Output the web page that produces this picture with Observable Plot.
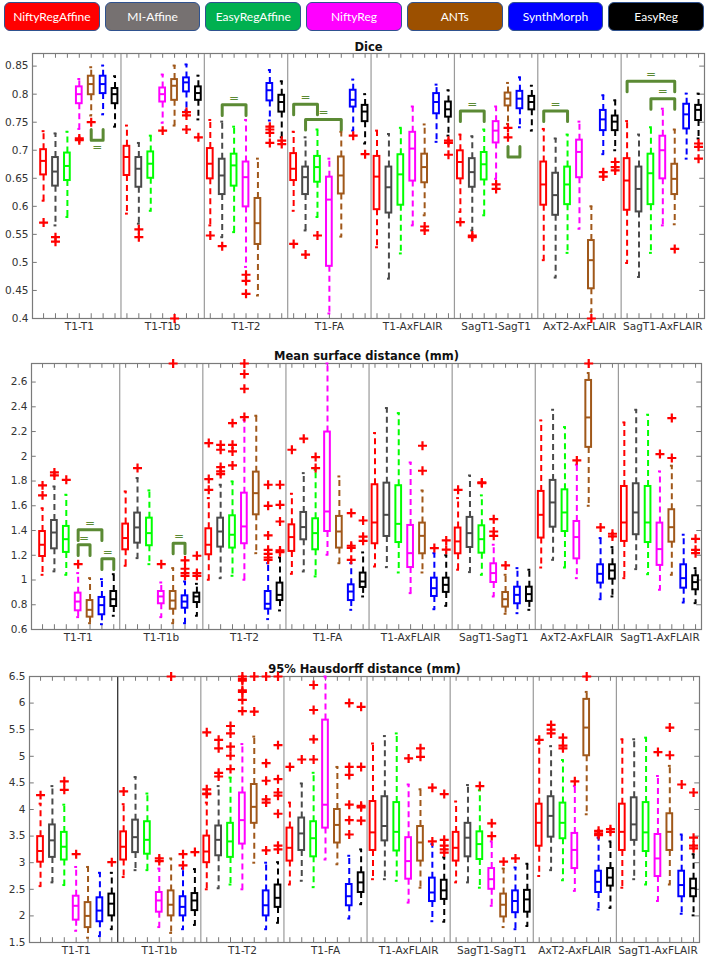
<!DOCTYPE html>
<html><head><meta charset="utf-8">
<script src="https://cdn.jsdelivr.net/npm/d3@7"></script>
<script src="https://cdn.jsdelivr.net/npm/@observablehq/plot@0.6"></script>
<style>
body{margin:0;background:#fff;width:709px;}
#legend{display:flex;gap:5px;padding:2px 5px 0 4px;height:36px;box-sizing:border-box;}
.lg{flex:1;height:29px;border:1.5px solid #2f528f;border-radius:6px;color:#fff;display:flex;align-items:center;justify-content:center;font:12px Lato,"Open Sans",sans-serif;box-sizing:border-box}
svg{display:block}
</style></head><body>
<div id="legend"></div>
<div id="charts"></div>
<script>
const methods = ["NiftyRegAffine","MI-Affine","EasyRegAffine","NiftyReg","ANTs","SynthMorph","EasyReg"];
const pairs = ["T1-T1","T1-T1b","T1-T2","T1-FA","T1-AxFLAIR","SagT1-SagT1","AxT2-AxFLAIR","SagT1-AxFLAIR"];
const legendColors = ["#ff0000","#767171","#00b050","#ff00ff","#9c5000","#0000ff","#000000"];
const boxColors = ["#ff0000","#4a4a4a","#00ff00","#ff00ff","#a0581a","#0000ff","#000000"];

// [lower whisker, q1, median, q3, upper whisker] per pair, per method
const diceStats = [
 [[0.61,0.656,0.681,0.701,0.734],[0.566,0.636,0.662,0.687,0.73],[0.581,0.646,0.672,0.695,0.733],[0.738,0.783,0.8,0.813,0.827],[0.762,0.799,0.818,0.832,0.848],[0.764,0.801,0.818,0.832,0.851],[0.742,0.783,0.8,0.81,0.832]],
 [[0.587,0.655,0.688,0.707,0.744],[0.569,0.634,0.667,0.687,0.713],[0.592,0.65,0.676,0.697,0.726],[0.749,0.786,0.8,0.811,0.835],[0.744,0.789,0.815,0.826,0.851],[0.771,0.804,0.821,0.829,0.853],[0.755,0.789,0.802,0.813,0.833]],
 [[0.566,0.649,0.676,0.703,0.754],[0.545,0.621,0.655,0.684,0.751],[0.554,0.636,0.673,0.693,0.742],[0.492,0.599,0.652,0.679,0.754],[0.441,0.532,0.57,0.614,0.685],[0.753,0.788,0.807,0.819,0.843],[0.723,0.768,0.786,0.798,0.823]],
 [[0.592,0.646,0.667,0.694,0.733],[0.557,0.621,0.652,0.67,0.723],[0.581,0.643,0.67,0.689,0.737],[0.409,0.493,0.612,0.652,0.685],[0.546,0.622,0.655,0.688,0.733],[0.735,0.777,0.79,0.807,0.826],[0.712,0.751,0.769,0.78,0.8]],
 [[0.527,0.594,0.653,0.689,0.735],[0.471,0.588,0.634,0.67,0.729],[0.516,0.602,0.657,0.692,0.74],[0.566,0.645,0.703,0.732,0.778],[0.584,0.642,0.67,0.693,0.746],[0.715,0.765,0.786,0.801,0.817],[0.726,0.759,0.773,0.786,0.807]],
 [[0.59,0.649,0.679,0.699,0.728],[0.557,0.634,0.661,0.685,0.725],[0.584,0.647,0.675,0.696,0.737],[0.649,0.713,0.735,0.751,0.778],[0.747,0.779,0.792,0.802,0.82],[0.741,0.774,0.792,0.805,0.83],[0.735,0.772,0.786,0.796,0.815]],
 [[0.504,0.602,0.639,0.679,0.738],[0.473,0.584,0.62,0.659,0.721],[0.517,0.603,0.639,0.67,0.728],[0.56,0.651,0.697,0.718,0.751],[0.412,0.453,0.504,0.539,0.6],[0.693,0.735,0.755,0.771,0.798],[0.7,0.735,0.751,0.761,0.789]],
 [[0.499,0.593,0.646,0.685,0.752],[0.474,0.59,0.631,0.67,0.728],[0.517,0.603,0.659,0.693,0.741],[0.566,0.649,0.7,0.725,0.774],[0.568,0.621,0.649,0.675,0.737],[0.685,0.738,0.764,0.782,0.801],[0.721,0.753,0.772,0.78,0.801]]
];
const diceOutliers = [
 [[0.571],[0.545,0.537],[],[0.721,0.718],[0.75],[],[]],
 [[],[0.559,0.545],[],[0.735],[0.40],[0.768,0.762,0.737],[0.723]],
 [[0.548],[0.529],[],[0.478,0.467,0.444],[],[0.742,0.737,0.731,0.713],[0.717,0.711]],
 [[0.533],[0.514],[0.548],[],[],[0.726],[0.693]],
 [[],[],[],[],[0.564,0.557],[],[0.717,0.713,0.692]],
 [[0.572],[0.548,0.545],[],[0.639,0.631],[0.74,0.723],[],[]],
 [[],[],[],[],[0.4],[0.661,0.653],[0.679,0.67,0.664]],
 [[],[],[],[],[0.524],[],[0.712,0.706,0.685]]
];
const msdStats = [
 [[1.042,1.19,1.285,1.392,1.58],[1.07,1.252,1.384,1.481,1.756],[1.042,1.223,1.33,1.433,1.689],[0.7,0.751,0.826,0.894,1.056],[0.651,0.7,0.759,0.834,1.015],[0.643,0.719,0.797,0.859,1.007],[0.711,0.786,0.845,0.907,1.047]],
 [[1.115,1.244,1.339,1.452,1.716],[1.177,1.298,1.425,1.541,1.824],[1.128,1.277,1.379,1.5,1.724],[0.7,0.808,0.867,0.907,0.98],[0.651,0.764,0.834,0.907,1.096],[0.651,0.772,0.826,0.872,0.988],[0.711,0.818,0.867,0.894,0.969]],
 [[1.002,1.204,1.285,1.414,1.662],[1.015,1.266,1.392,1.5,1.77],[1.034,1.258,1.366,1.519,1.797],[1.002,1.293,1.433,1.702,2.295],[1.217,1.527,1.702,1.872,2.328],[0.684,0.764,0.808,0.907,1.136],[0.754,0.834,0.88,0.975,1.182]],
 [[1.05,1.231,1.347,1.446,1.697],[1.069,1.325,1.428,1.546,1.864],[1.029,1.244,1.379,1.495,1.891],[1.204,1.392,1.554,2.196,2.75],[1.136,1.258,1.392,1.514,1.837],[0.759,0.834,0.907,0.961,1.136],[0.867,0.94,0.988,1.056,1.223]],
 [[1.109,1.293,1.465,1.77,2.188],[1.104,1.352,1.527,1.783,2.39],[1.061,1.303,1.454,1.762,2.349],[0.894,1.101,1.217,1.441,1.95],[1.061,1.212,1.357,1.46,1.724],[0.764,0.867,0.934,1.015,1.217],[0.791,0.9,0.961,1.015,1.2]],
 [[1.083,1.212,1.312,1.42,1.662],[1.064,1.263,1.379,1.506,1.845],[1.042,1.217,1.33,1.438,1.684],[0.867,0.98,1.056,1.131,1.285],[0.727,0.781,0.845,0.899,1.042],[0.732,0.808,0.88,0.942,1.096],[0.759,0.827,0.886,0.942,1.083]],
 [[1.101,1.339,1.527,1.716,2.29],[1.163,1.427,1.627,1.805,2.376],[1.101,1.392,1.546,1.729,2.236],[1.015,1.171,1.347,1.473,1.932],[1.6,2.072,2.314,2.613,2.673],[0.845,0.975,1.05,1.123,1.339],[0.867,1.007,1.077,1.123,1.266]],
 [[1.015,1.312,1.465,1.756,2.274],[1.088,1.366,1.546,1.778,2.376],[1.047,1.303,1.465,1.756,2.336],[0.921,1.118,1.25,1.46,1.878],[1.042,1.306,1.427,1.568,1.924],[0.818,0.934,1.015,1.123,1.366],[0.813,0.921,0.983,1.034,1.096]]
];
const msdOutliers = [
 [[1.765,1.684],[1.87,1.845],[1.81],[1.128],[],[],[]],
 [[],[1.905],[],[1.128],[2.75],[1.158,1.091,1.056,1.034],[1.196,1.056,1.034]],
 [[2.107,1.816,1.729],[2.093,2.053,1.913,1.878,1.856],[2.268,2.093,2.039,1.926],[2.75,2.665,2.546,2.317],[],[1.77,1.6,1.36,1.244,1.212,1.182,1.163],[1.77,1.608,1.473,1.239,1.225]],
 [[2.053],[2.142],[1.994,1.905],[],[],[1.541,1.277,1.26,1.163],[1.481,1.35,1.317]],
 [[],[],[],[],[2.085,1.883],[1.258],[1.32,1.245]],
 [[1.729],[],[1.789,1.783],[1.492,1.392,1.357],[1.118],[],[]],
 [[],[],[],[1.967],[2.75],[1.425],[1.374,1.352]],
 [[],[],[],[2.018],[2.309,1.986],[],[1.333,1.244,1.217]]
];
const hdStats = [
 [[2.56,3.01,3.22,3.49,4.11],[2.63,3.10,3.42,3.71,4.44],[2.58,3.05,3.30,3.57,4.09],[1.72,1.92,2.19,2.37,2.92],[1.59,1.78,2.0,2.25,2.92],[1.62,1.89,2.1,2.34,2.81],[1.75,2.0,2.23,2.41,2.81]],
 [[2.73,3.05,3.30,3.58,4.1],[2.86,3.19,3.48,3.80,4.61],[2.86,3.16,3.43,3.77,4.3],[1.79,2.07,2.29,2.44,2.89],[1.68,2.0,2.21,2.47,3.08],[1.75,2.0,2.17,2.36,2.89],[1.83,2.1,2.29,2.42,2.88]],
 [[2.5,3.0,3.21,3.5,4.13],[2.52,3.13,3.43,3.69,4.44],[2.59,3.1,3.4,3.74,4.6],[2.5,3.35,3.80,4.31,5.23],[3.0,3.74,4.05,4.47,5.37],[1.75,2.0,2.2,2.47,3.0],[1.87,2.16,2.34,2.58,3.01]],
 [[2.59,3.03,3.28,3.65,4.13],[2.66,3.23,3.55,3.84,4.49],[2.54,3.11,3.46,3.77,4.69],[3.06,3.65,4.09,5.68,6.5],[2.97,3.37,3.71,4.0,4.8],[1.95,2.19,2.37,2.59,3.13],[2.22,2.44,2.63,2.81,3.25]],
 [[2.69,3.23,3.57,4.15,5.24],[2.69,3.41,3.69,4.24,5.38],[2.66,3.22,3.58,4.13,5.43],[2.25,2.69,3.03,3.47,4.47],[2.53,3.03,3.38,3.68,4.38],[1.9,2.27,2.44,2.71,3.35],[1.89,2.31,2.48,2.67,3.1]],
 [[2.63,3.03,3.28,3.57,4.15],[2.63,3.11,3.47,3.74,4.46],[2.53,3.06,3.35,3.58,4.36],[2.19,2.5,2.69,2.89,3.4],[1.79,1.98,2.21,2.41,2.89],[1.75,2.06,2.28,2.47,2.91],[1.81,2.07,2.31,2.48,2.98]],
 [[2.75,3.31,3.75,4.1,5.24],[2.86,3.48,3.88,4.24,5.19],[2.67,3.45,3.75,4.12,4.93],[2.47,2.89,3.24,3.55,4.44],[3.91,5.01,5.54,6.07,6.21],[2.12,2.44,2.64,2.84,3.47],[2.15,2.56,2.72,2.89,3.4]],
 [[2.53,3.23,3.58,4.1,5.32],[2.69,3.42,3.72,4.22,5.32],[2.59,3.21,3.57,4.13,5.35],[2.28,2.74,3.08,3.53,4.63],[2.59,3.23,3.58,3.92,4.82],[2.04,2.36,2.58,2.84,3.53],[2.01,2.36,2.52,2.69,3.16]]
];
const hdOutliers = [
 [[4.27],[],[4.53,4.37],[3.16],[],[],[3.01]],
 [[4.34],[],[],[3.08,3.03],[6.5],[3.16,2.95],[3.2]],
 [[5.45,4.38,4.30,4.29],[5.31,5.15,4.69,4.62],[5.57,5.43,5.18,5.01,4.76],[6.5,6.45,6.42,6.24,6.21,6.06,5.85],[6.5,5.84],[6.5,4.87,4.54,4.19,4.13,3.23],[6.5,5.21,4.57,4.32,4.26,3.92,3.32,3.25]],
 [[4.8],[4.94],[6.34,5.87,5.32,4.94],[],[],[6.0,4.8,4.65,4.09,3.8,3.53],[5.93,4.8,4.07,4.04,3.79]],
 [[],[],[],[4.96],[5.15,4.99],[4.41,3.40],[4.29,3.43,3.32,3.25,3.19]],
 [[],[],[4.44],[3.74,3.5],[3.02],[3.08],[]],
 [[5.31],[5.59,5.5,5.43],[5.35,5.2,5.15],[4.53],[6.5],[3.6,3.55,3.52],[3.63,3.58]],
 [[],[],[],[5.08],[5.54,5.02],[4.47],[4.32,3.47,3.32,3.27]]
];
// equivalence brackets: [pair, method A, method B, level, direction (1 = legs down, -1 = legs up), show "="]
const diceBrackets = [
 [0,4,5,0.718,-1,true],[2,1,3,0.781,1,true],[3,0,2,0.782,1,true],[3,1,4,0.755,1,true],
 [5,0,2,0.77,1,true],[5,4,5,0.688,-1,false],[6,0,2,0.77,1,true],[7,0,4,0.823,1,true],[7,2,4,0.792,1,true]
];
const msdBrackets = [[0,3,5,1.406,1,true],[0,3,4,1.285,1,true],[0,5,6,1.171,1,true],[1,4,5,1.298,1,true]];
const hdBrackets = [];

const diceTicks = [0.4,0.45,0.5,0.55,0.6,0.65,0.7,0.75,0.8,0.85];
const msdTicks = [0.6,0.8,1,1.2,1.4,1.6,1.8,2,2.2,2.4,2.6];
const hdTicks = [1.5,2,2.5,3,3.5,4,4.5,5,5.5,6,6.5];

const titles = ["Dice","Mean surface distance (mm)","95% Hausdorff distance (mm)"];

// legend
const lg = document.getElementById("legend");
methods.forEach((m,i)=>{const d=document.createElement("div");d.className="lg";d.style.background=legendColors[i];d.textContent=m;lg.appendChild(d);});

const panels = [
 {title:titles[0], stats:diceStats, out:diceOutliers, brackets:diceBrackets, domain:[0.4,0.8725], ticks:diceTicks, height:304, mt:17, mb:22, ml:32, mr:5, tdy:11, firstSep:"#9a9a9a"},
 {title:titles[1], stats:msdStats, out:msdOutliers, brackets:msdBrackets, domain:[0.6,2.75], ticks:msdTicks, height:312, mt:23, mb:23, ml:31, mr:8, tdy:12, firstSep:"#9a9a9a"},
 {title:titles[2], stats:hdStats, out:hdOutliers, brackets:hdBrackets, domain:[1.5,6.5], ticks:hdTicks, height:309, mt:24, mb:19, ml:29, mr:10, tdy:12, firstSep:"#222"}
];
const font = "'DejaVu Sans', Arial, sans-serif";
const bracketColor = "#5b8a34";

function makePanel(p){
  const rows=[];
  p.stats.forEach((grp,g)=>grp.forEach((s,m)=>rows.push({pos:g*7+m+1,lo:s[0],q1:s[1],med:s[2],q3:s[3],hi:s[4],color:boxColors[m]})));
  const outs=[];
  p.out.forEach((grp,g)=>grp.forEach((arr,m)=>arr.forEach(v=>outs.push({pos:g*7+m+1,v}))));
  const [y0,y1]=p.domain, span=y1-y0;
  const xd=[0.07,56.5];
  const positions=d3.range(1,pairs.length*7+1);
  const seps=d3.range(1,pairs.length).map(g=>g*7+0.5);
  const centers=pairs.map((_,g)=>g*7+4);
  const bl=p.brackets.map(([g,a,b,y,dir,eq],i)=>({i,xa:g*7+a+1,xb:g*7+b+1,y,dir,eq,leg:y-dir*0.04*span}));
  const bpts=bl.flatMap(b=>[{i:b.i,x:b.xa,y:b.leg},{i:b.i,x:b.xa,y:b.y},{i:b.i,x:b.xb,y:b.y},{i:b.i,x:b.xb,y:b.leg}]);
  return Plot.plot({
    width:709, height:p.height, marginTop:p.mt, marginBottom:p.mb, marginLeft:p.ml, marginRight:p.mr,
    x:{domain:xd, axis:null},
    y:{domain:p.domain, axis:null},
    color:{type:"identity"},
    style:{fontFamily:font, background:"white", overflow:"visible"},
    marks:[
      Plot.ruleX(seps.slice(1),{stroke:"#9a9a9a",strokeWidth:1.2}),
      Plot.ruleX(seps.slice(0,1),{stroke:p.firstSep,strokeWidth:1.2}),
      Plot.ruleX(positions,{x:d=>d,y1:y0,y2:y0+0.018*span,stroke:"#555",strokeWidth:0.8}),
      Plot.ruleX(positions,{x:d=>d,y1:y1,y2:y1-0.018*span,stroke:"#555",strokeWidth:0.8}),
      Plot.ruleY(p.ticks,{y:d=>d,x1:xd[0],x2:xd[0]+0.4,stroke:"#555",strokeWidth:0.8}),
      Plot.ruleY(p.ticks,{y:d=>d,x1:xd[1],x2:xd[1]-0.4,stroke:"#555",strokeWidth:0.8}),
      Plot.frame({stroke:"#7a7a7a",strokeWidth:1.2}),
      Plot.axisY({ticks:p.ticks,tickSize:0,tickPadding:4,tickFormat:d=>String(d),fontSize:10.5,color:"#333"}),
      Plot.axisX({ticks:centers,tickSize:0,tickPadding:4,tickFormat:d=>pairs[(d-4)/7],fontSize:10.5,color:"#333"}),
      Plot.text([p.title],{frameAnchor:"top",dy:-p.tdy,text:d=>d,fontWeight:"bold",fontSize:11.5,fill:"#111"}),
      Plot.ruleX(rows,{x:"pos",y1:"q3",y2:"hi",stroke:"color",strokeWidth:2,strokeDasharray:"6,4"}),
      Plot.ruleX(rows,{x:"pos",y1:"q1",y2:"lo",stroke:"color",strokeWidth:2,strokeDasharray:"6,4"}),
      Plot.ruleY(rows,{y:"hi",x1:d=>d.pos-0.12,x2:d=>d.pos+0.12,stroke:"color",strokeWidth:2}),
      Plot.ruleY(rows,{y:"lo",x1:d=>d.pos-0.12,x2:d=>d.pos+0.12,stroke:"color",strokeWidth:2}),
      Plot.rect(rows,{x1:d=>d.pos-0.24,x2:d=>d.pos+0.24,y1:"q1",y2:"q3",stroke:"color",fill:"none",strokeWidth:2}),
      Plot.ruleY(rows,{y:"med",x1:d=>d.pos-0.24,x2:d=>d.pos+0.24,stroke:"color",strokeWidth:2}),
      Plot.dot(outs,{x:"pos",y:"v",symbol:"plus",r:3,stroke:"#ff0000",strokeWidth:2.2}),
      Plot.line(bpts,{x:"x",y:"y",z:"i",stroke:bracketColor,strokeWidth:3,strokeLinejoin:"round",strokeLinecap:"round"}),
      Plot.text(bl.filter(b=>b.eq&&b.dir>0),{x:b=>(b.xa+b.xb)/2,y:"y",text:()=>"=",dy:-7,fill:bracketColor,fontSize:12}),
      Plot.text(bl.filter(b=>b.eq&&b.dir<0),{x:b=>(b.xa+b.xb)/2,y:"y",text:()=>"=",dy:7,fill:bracketColor,fontSize:12})
    ]
  });
}
const charts=document.getElementById("charts");
panels.forEach(p=>charts.appendChild(makePanel(p)));
</script>
</body></html>
